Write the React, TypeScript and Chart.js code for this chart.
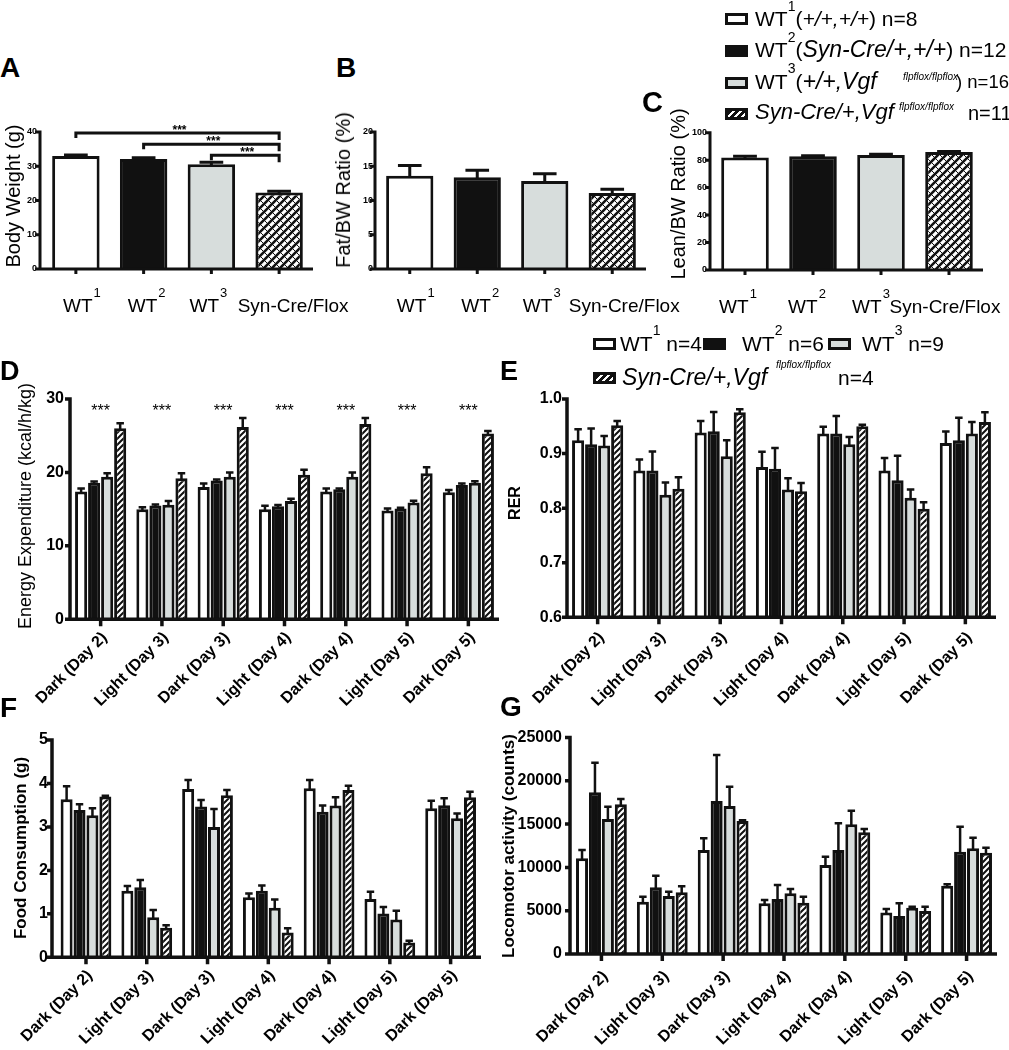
import React, { useEffect, useRef } from "react";
import { Chart, registerables } from "chart.js";
Chart.register(...registerables);

const FONT = '"Liberation Sans", Arial, Helvetica, sans-serif';
const BLACK = "#111111";
const WHITE = "#ffffff";
const GREY = "#d7dddc";

// ---------------- Panels A–C ----------------
const genotypeLabels = ["WT", "WT", "WT", "Syn-Cre/Flox"];
const genotypeSup = ["1", "2", "3", ""];
const genotypeFills = ["white", "black", "grey", "hatch"];

const bodyWeight = [33.0, 32.1, 30.6, 22.3];
const bodyWeightErr = [0.3, 0.4, 0.6, 0.4];
const fatBW = [13.6, 13.4, 12.85, 11.1];
const fatBWErr = [1.5, 1.0, 1.05, 0.55];
const leanBW = [82.0, 82.8, 83.8, 86.0];
const leanBWErr = [0.8, 0.4, 0.5, 0.3];

const bwSigPairs = [[0, 3], [1, 3], [2, 3]];
const bwSigLevels = [39.7, 36.4, 33.2];
const bwSigText = ["***", "***", "***"];

// ---------------- Panels D–G ----------------
const periods = [
  "Dark (Day 2)", "Light (Day 3)", "Dark (Day 3)", "Light (Day 4)",
  "Dark (Day 4)", "Light (Day 5)", "Dark (Day 5)",
];
const seriesFills = ["white", "black", "grey", "hatch"];

// D: Energy expenditure (kcal/h/kg)
const eeWT1 = [17.4, 15.0, 18.0, 15.0, 17.4, 14.8, 17.3];
const eeWT2 = [18.6, 15.5, 18.9, 15.4, 17.7, 15.1, 18.3];
const eeWT3 = [19.4, 15.6, 19.4, 16.1, 19.4, 15.9, 18.6];
const eeKO = [26.0, 19.2, 26.2, 19.7, 26.6, 19.9, 25.3];
const eeWT1Err = [0.4, 0.25, 0.5, 0.45, 0.4, 0.3, 0.3];
const eeWT2Err = [0.15, 0.15, 0.15, 0.15, 0.1, 0.1, 0.2];
const eeWT3Err = [0.5, 0.5, 0.6, 0.3, 0.6, 0.25, 0.2];
const eeKOErr = [0.7, 0.7, 1.2, 0.65, 0.8, 0.8, 0.35];
const eeSig = ["***", "***", "***", "***", "***", "***", "***"];

// E: RER
const rerWT1 = [0.9245, 0.869, 0.9386, 0.8753, 0.937, 0.869, 0.9195];
const rerWT2 = [0.917, 0.869, 0.941, 0.872, 0.937, 0.851, 0.9245];
const rerWT3 = [0.915, 0.8245, 0.895, 0.834, 0.917, 0.819, 0.937];
const rerKO = [0.952, 0.8355, 0.9755, 0.831, 0.95, 0.7987, 0.958];
const rerWT1Err = [0.02, 0.02, 0.021, 0.028, 0.012, 0.023, 0.021];
const rerWT2Err = [0.029, 0.035, 0.035, 0.038, 0.032, 0.045, 0.041];
const rerWT3Err = [0.017, 0.0225, 0.0295, 0.021, 0.0135, 0.015, 0.021];
const rerKOErr = [0.0075, 0.021, 0.0055, 0.015, 0.003, 0.012, 0.0175];

// F: Food consumption (g)
const foodWT1 = [3.635, 1.53, 3.87, 1.38, 3.89, 1.34, 3.43];
const foodWT2 = [3.39, 1.61, 3.47, 1.53, 3.35, 1.01, 3.5];
const foodWT3 = [3.27, 0.92, 3.0, 1.14, 3.49, 0.87, 3.2];
const foodKO = [3.7, 0.68, 3.73, 0.57, 3.85, 0.34, 3.68];
const foodWT1Err = [0.3, 0.11, 0.21, 0.09, 0.19, 0.17, 0.17];
const foodWT2Err = [0.13, 0.17, 0.15, 0.12, 0.14, 0.15, 0.16];
const foodWT3Err = [0.16, 0.17, 0.41, 0.19, 0.19, 0.2, 0.11];
const foodKOErr = [0.02, 0.06, 0.12, 0.1, 0.1, 0.04, 0.13];

// G: Locomotor activity (counts)
const locoWT1 = [11050, 6040, 12010, 5850, 10280, 4780, 7890];
const locoWT2 = [18670, 7700, 17670, 6350, 12010, 4390, 11820];
const locoWT3 = [15590, 6700, 17090, 7010, 14970, 5350, 12200];
const locoKO = [17290, 7120, 15360, 5930, 14050, 4970, 11700];
const locoWT1Err = [960, 580, 1350, 390, 960, 420, 160];
const locoWT2Err = [3420, 1340, 5310, 1620, 3080, 1460, 2880];
const locoWT3Err = [1420, 490, 2230, 490, 1580, 110, 1230];
const locoKOErr = [610, 700, 80, 690, 380, 490, 580];

// ---------------- helpers ----------------
type DS = { data: number[]; err: number[]; fill: string | string[] };
interface Spec {
  key: string;
  rect: { x: number; y: number; w: number; h: number };
  area: { l: number; r: number; t: number; b: number };
  labels: string[];
  series: DS[];
  yMin: number; yMax: number; yStep: number; yDec: number;
  yFont: number; yPad: number;
  rotated: boolean; xFont: number; xPad: number; xShift: number;
  cat: number; bar: number;
  border: number; axisW: number; yGap: number; yTickLen: number; xTickLen: number;
  errW: number; capFrac: number;
  hatch: "big" | "small";
  draw?: (chart: any, ctx: CanvasRenderingContext2D) => void;
}

function makeHatch(size: number, lw: number, backLw: number): CanvasPattern | string {
  const c = document.createElement("canvas");
  c.width = size; c.height = size;
  const g = c.getContext("2d");
  if (!g) return WHITE;
  g.fillStyle = WHITE; g.fillRect(0, 0, size, size);
  g.strokeStyle = BLACK;
  g.lineWidth = lw;
  g.beginPath();
  for (const k of [-size, 0, size]) { g.moveTo(k - 1, size + 1); g.lineTo(k + size + 1, -1); }
  g.stroke();
  if (backLw > 0) {
    g.lineWidth = backLw;
    g.beginPath();
    for (const k of [-size, 0, size]) { g.moveTo(k - 1, -1); g.lineTo(k + size + 1, size + 1); }
    g.stroke();
  }
  const p = g.createPattern(c, "repeat");
  return p || WHITE;
}

function genotypeLabelDrawer(shifts: number[]) {
  return (chart: any, ctx: CanvasRenderingContext2D) => {
    const x = chart.scales.x;
    const base = chart.chartArea.bottom + 43;
    ctx.save();
    ctx.fillStyle = "#000"; ctx.textBaseline = "alphabetic"; ctx.textAlign = "left";
    genotypeLabels.forEach((lab, i) => {
      ctx.font = `19px ${FONT}`;
      const w1 = ctx.measureText(lab).width;
      const sup = genotypeSup[i];
      ctx.font = `13px ${FONT}`;
      const w2 = sup ? ctx.measureText(sup).width + 1 : 0;
      const cx = x.getPixelForValue(i) + shifts[i];
      const sx = cx - (w1 + w2) / 2;
      ctx.font = `19px ${FONT}`;
      ctx.fillText(lab, sx, base);
      if (sup) { ctx.font = `13px ${FONT}`; ctx.fillText(sup, sx + w1 + 1, base - 15); }
    });
    ctx.restore();
  };
}

function makePlugin(s: Spec) {
  return {
    id: "fig_" + s.key,
    afterDatasetsDraw(chart: any) {
      const ctx: CanvasRenderingContext2D = chart.ctx;
      const y = chart.scales.y;
      ctx.save();
      ctx.strokeStyle = BLACK; ctx.lineWidth = s.errW; ctx.lineCap = "butt";
      chart.data.datasets.forEach((ds: any, di: number) => {
        const meta = chart.getDatasetMeta(di);
        meta.data.forEach((el: any, i: number) => {
          const v = ds.data[i]; const e = ds.err[i];
          const pt = y.getPixelForValue(v + e);
          const cw = (el.width * s.capFrac) / 2;
          ctx.beginPath();
          ctx.moveTo(el.x, el.y + 1); ctx.lineTo(el.x, pt);
          ctx.moveTo(el.x - cw, pt); ctx.lineTo(el.x + cw, pt);
          ctx.stroke();
        });
      });
      ctx.restore();
    },
    afterDraw(chart: any) {
      const ctx: CanvasRenderingContext2D = chart.ctx;
      const ca = chart.chartArea;
      const x = chart.scales.x; const y = chart.scales.y;
      const ax = ca.left - s.yGap;
      const y0 = y.getPixelForValue(s.yMin);
      const yTop = y.getPixelForValue(s.yMax);
      ctx.save();
      ctx.strokeStyle = BLACK; ctx.lineWidth = s.axisW; ctx.lineCap = "butt";
      ctx.beginPath();
      ctx.moveTo(ax, yTop - s.axisW / 2); ctx.lineTo(ax, y0);
      y.ticks.forEach((t: any) => {
        const py = y.getPixelForValue(t.value);
        ctx.moveTo(ax - s.yTickLen, py); ctx.lineTo(ax, py);
      });
      ctx.moveTo(ax - s.yTickLen, y0); ctx.lineTo(ca.right, y0);
      s.labels.forEach((_l, i) => {
        const px = x.getPixelForValue(i);
        ctx.moveTo(px, y0); ctx.lineTo(px, y0 + s.xTickLen);
      });
      ctx.stroke();
      ctx.restore();
      if (s.draw) s.draw(chart, ctx);
    },
  };
}

function buildConfig(s: Spec, fills: Record<string, any>) {
  const resolve = (f: string) => fills[f];
  return {
    type: "bar" as const,
    data: {
      labels: s.labels,
      datasets: s.series.map((ds) => ({
        data: ds.data,
        err: ds.err,
        backgroundColor: Array.isArray(ds.fill) ? ds.fill.map(resolve) : resolve(ds.fill),
        borderColor: BLACK,
        borderWidth: s.border,
        borderSkipped: "start",
        categoryPercentage: s.cat,
        barPercentage: s.bar,
      })),
    },
    options: {
      responsive: true,
      maintainAspectRatio: false,
      animation: false,
      devicePixelRatio: 1,
      events: [],
      layout: {
        padding: { top: s.area.t - s.rect.y, right: s.rect.x + s.rect.w - s.area.r, left: 0, bottom: 0 },
      },
      plugins: { legend: { display: false }, tooltip: { enabled: false }, title: { display: false } },
      scales: {
        x: {
          type: "category",
          offset: true,
          grid: { display: false, drawTicks: false },
          border: { display: false },
          ticks: {
            display: s.rotated,
            minRotation: 45, maxRotation: 45, autoSkip: false,
            padding: s.xPad, labelOffset: s.xShift, color: "#000",
            font: { family: FONT, size: s.xFont, weight: "bold" },
          },
          afterFit: (sc: any) => { sc.height = s.rect.y + s.rect.h - s.area.b; },
        },
        y: {
          min: s.yMin, max: s.yMax,
          grid: { display: false, drawTicks: false },
          border: { display: false },
          ticks: {
            stepSize: s.yStep, padding: s.yPad, color: "#000",
            font: { family: FONT, size: s.yFont, weight: "bold" },
            callback: (v: any) => Number(v).toFixed(s.yDec),
          },
          afterFit: (sc: any) => { sc.width = s.area.l - s.rect.x; },
        },
      },
    },
    plugins: [makePlugin(s)],
  };
}

const smallCommon = {
  rotated: false, xFont: 12, xPad: 0, xShift: 0,
  cat: 0.7, bar: 1, border: 3, axisW: 3, yTickLen: 5, xTickLen: 5,
  errW: 3, capFrac: 0.5, hatch: "big" as const, yDec: 0, yFont: 9,
};
const timeCommon = {
  rotated: true, xFont: 16, xShift: 4,
  cat: 0.85, bar: 0.93, border: 3, axisW: 3.5, yTickLen: 5, xTickLen: 7,
  errW: 2.5, capFrac: 0.62, hatch: "small" as const, yFont: 16,
};

function fourSeries(a: number[], b: number[], c: number[], d: number[], ea: number[], eb: number[], ec: number[], ed: number[]): DS[] {
  const vals = [a, b, c, d]; const errs = [ea, eb, ec, ed];
  return vals.map((v, i) => ({ data: v, err: errs[i], fill: seriesFills[i] }));
}

const specs: Spec[] = [
  {
    ...smallCommon, key: "A",
    rect: { x: 0, y: 100, w: 365, h: 230 }, area: { l: 42, r: 313, t: 132, b: 269 },
    labels: genotypeLabels.map((l, i) => l + genotypeSup[i]),
    series: [{ data: bodyWeight, err: bodyWeightErr, fill: genotypeFills }],
    yMin: 0, yMax: 40, yStep: 10, yPad: 5, yGap: 2,
    draw: (chart, ctx) => {
      genotypeLabelDrawer([6, 3, -3, 14])(chart, ctx);
      const x = chart.scales.x; const y = chart.scales.y;
      ctx.save();
      ctx.strokeStyle = BLACK; ctx.lineWidth = 3; ctx.fillStyle = "#000";
      ctx.font = `bold 12px ${FONT}`; ctx.textAlign = "center"; ctx.textBaseline = "alphabetic";
      bwSigPairs.forEach(([a, b], k) => {
        const x1 = x.getPixelForValue(a); const x2 = x.getPixelForValue(b);
        const yy = y.getPixelForValue(bwSigLevels[k]);
        ctx.beginPath();
        ctx.moveTo(x1, yy + 5); ctx.lineTo(x1, yy); ctx.lineTo(x2, yy); ctx.lineTo(x2, yy + 7);
        ctx.stroke();
        ctx.fillText(bwSigText[k], (x1 + x2) / 2 + 2, yy + 1);
      });
      ctx.restore();
    },
  },
  {
    ...smallCommon, key: "B",
    rect: { x: 330, y: 100, w: 370, h: 230 }, area: { l: 376, r: 646, t: 132, b: 269 },
    labels: genotypeLabels.map((l, i) => l + genotypeSup[i]),
    series: [{ data: fatBW, err: fatBWErr, fill: genotypeFills }],
    yMin: 0, yMax: 20, yStep: 5, yPad: 3, yGap: 1,
    draw: genotypeLabelDrawer([6, 3, -3, 12]),
  },
  {
    ...smallCommon, key: "C",
    rect: { x: 655, y: 110, w: 354, h: 220 }, area: { l: 711, r: 983, t: 132.7, b: 270 },
    labels: genotypeLabels.map((l, i) => l + genotypeSup[i]),
    series: [{ data: leanBW, err: leanBWErr, fill: genotypeFills }],
    yMin: 0, yMax: 100, yStep: 20, yPad: 4, yGap: 1,
    draw: genotypeLabelDrawer([-7, -6, -10, -4]),
  },
  {
    ...timeCommon, key: "D",
    rect: { x: 0, y: 370, w: 530, h: 340 }, area: { l: 70, r: 499, t: 399, b: 619.3 },
    labels: periods,
    series: fourSeries(eeWT1, eeWT2, eeWT3, eeKO, eeWT1Err, eeWT2Err, eeWT3Err, eeKOErr),
    yMin: 0, yMax: 30, yStep: 10, yDec: 0, yPad: 6, yGap: 0, xPad: 9,
    draw: (chart, ctx) => {
      const x = chart.scales.x; const y = chart.scales.y;
      ctx.save();
      ctx.fillStyle = "#000"; ctx.font = `16px ${FONT}`; ctx.textAlign = "center"; ctx.textBaseline = "alphabetic";
      eeSig.forEach((t, i) => ctx.fillText(t, x.getPixelForValue(i), y.getPixelForValue(30) + 17));
      ctx.restore();
    },
  },
  {
    ...timeCommon, key: "E",
    rect: { x: 500, y: 370, w: 509, h: 340 }, area: { l: 567, r: 996, t: 399, b: 617.3 },
    labels: periods,
    series: fourSeries(rerWT1, rerWT2, rerWT3, rerKO, rerWT1Err, rerWT2Err, rerWT3Err, rerKOErr),
    yMin: 0.6, yMax: 1.0, yStep: 0.1, yDec: 1, yPad: 5, yGap: 0, xPad: 11,
  },
  {
    ...timeCommon, key: "F",
    rect: { x: 0, y: 715, w: 520, h: 335 }, area: { l: 55.6, r: 481, t: 740, b: 957.3 },
    labels: periods,
    series: fourSeries(foodWT1, foodWT2, foodWT3, foodKO, foodWT1Err, foodWT2Err, foodWT3Err, foodKOErr),
    yMin: 0, yMax: 5, yStep: 1, yDec: 0, yPad: 7.6, yGap: 3.6, xPad: 9,
  },
  {
    ...timeCommon, key: "G",
    rect: { x: 500, y: 715, w: 509, h: 335 }, area: { l: 571, r: 997, t: 737.5, b: 954 },
    labels: periods,
    series: fourSeries(locoWT1, locoWT2, locoWT3, locoKO, locoWT1Err, locoWT2Err, locoWT3Err, locoKOErr),
    yMin: 0, yMax: 25000, yStep: 5000, yDec: 0, yPad: 9, yGap: 1, xPad: 13,
  },
];

// ---------------- HTML text helpers ----------------
function T(p: { x: number; b: number; s: number; bold?: boolean; it?: boolean; children: any }) {
  return (
    <div style={{
      position: "absolute", left: p.x, top: p.b - 0.8465 * p.s, fontSize: p.s, lineHeight: `${p.s}px`,
      fontWeight: p.bold ? 700 : 400, fontStyle: p.it ? "italic" : "normal", whiteSpace: "nowrap", color: "#000",
    }}>{p.children}</div>
  );
}
function VT(p: { cx: number; cy: number; s: number; bold?: boolean; children: any }) {
  return (
    <div style={{
      position: "absolute", left: p.cx, top: p.cy, fontSize: p.s, lineHeight: `${p.s}px`,
      fontWeight: p.bold ? 700 : 400, whiteSpace: "nowrap", color: "#000",
      transform: "translate(-50%, -50%) rotate(-90deg)",
    }}>{p.children}</div>
  );
}
function Sup(p: { children: any; s?: number; up?: number; it?: boolean }) {
  return <span style={{ fontSize: p.s ?? 14, position: "relative", top: -(p.up ?? 15), fontStyle: p.it ? "italic" : "normal" }}>{p.children}</span>;
}
function It(p: { children: any; s?: number }) {
  return <i style={{ fontSize: p.s ?? 21 }}>{p.children}</i>;
}
const cssFill: Record<string, string> = {
  white: WHITE, black: BLACK, grey: GREY,
  hatch: "repeating-linear-gradient(135deg, #111 0px, #111 3px, #fff 3px, #fff 5px)",
};
function Sw(p: { x: number; y: number; fill: string }) {
  return (
    <div style={{
      position: "absolute", left: p.x, top: p.y, width: 23, height: 12, boxSizing: "border-box",
      border: "3px solid #111", background: cssFill[p.fill],
    }} />
  );
}

export default function App() {
  const refs = useRef<(HTMLCanvasElement | null)[]>([]);
  useEffect(() => {
    const fillsBig = { white: WHITE, black: BLACK, grey: GREY, hatch: makeHatch(8, 2.6, 1.0) };
    const fillsSmall = { white: WHITE, black: BLACK, grey: GREY, hatch: makeHatch(6, 2.0, 0) };
    const charts = specs.map((s, i) => {
      const c = refs.current[i];
      if (!c) return null;
      return new Chart(c, buildConfig(s, s.hatch === "big" ? fillsBig : fillsSmall) as any);
    });
    return () => charts.forEach((ch) => ch && ch.destroy());
  }, []);

  return (
    <div style={{ position: "absolute", left: 0, top: 0, width: 1009, height: 1050, background: "#fff", fontFamily: FONT, overflow: "hidden" }}>
      {specs.map((s, i) => (
        <div key={s.key} style={{ position: "absolute", left: s.rect.x, top: s.rect.y, width: s.rect.w, height: s.rect.h }}>
          <canvas ref={(el) => { refs.current[i] = el; }} />
        </div>
      ))}

      {/* panel letters */}
      <T x={0} b={78} s={28} bold>A</T>
      <T x={336} b={78} s={28} bold>B</T>
      <T x={642} b={113} s={29} bold>C</T>
      <T x={0} b={381} s={27} bold>D</T>
      <T x={500} b={381} s={27} bold>E</T>
      <T x={0} b={718} s={28} bold>F</T>
      <T x={500} b={717} s={28} bold>G</T>

      {/* axis titles */}
      <VT cx={13} cy={196} s={20}>Body Weight (g)</VT>
      <VT cx={343} cy={190} s={20}>Fat/BW Ratio (%)</VT>
      <VT cx={678} cy={194} s={20}>Lean/BW Ratio (%)</VT>
      <VT cx={25} cy={506} s={18}>Energy Expenditure (kcal/h/kg)</VT>
      <VT cx={515} cy={503} s={16} bold>RER</VT>
      <VT cx={20} cy={848} s={17} bold>Food Consumption (g)</VT>
      <VT cx={508} cy={846} s={17} bold>Locomotor activity (counts)</VT>

      {/* legend for A–C */}
      <Sw x={725} y={13} fill="white" />
      <T x={755} b={26} s={21}>WT<Sup>1</Sup>(<It>+/+,+/+</It>) n=8</T>

      <Sw x={725} y={45} fill="black" />
      <T x={755} b={57} s={21}>WT<Sup>2</Sup>(<It s={23}>Syn-Cre/+,+/+</It>) n=12</T>

      <Sw x={725} y={77} fill="grey" />
      <T x={755} b={89} s={21}>WT<Sup up={16}>3</Sup>(<It s={23}>+/+,Vgf</It></T>
      <T x={903} b={80} s={10} it>flpflox/flpflox</T>
      <T x={956} b={89} s={18.5}>) n=16</T>

      <Sw x={725} y={108} fill="hatch" />
      <T x={755} b={120} s={22} it>Syn-Cre/+,Vgf</T>
      <T x={899} b={110} s={10} it>flpflox/flpflox</T>
      <T x={968} b={120} s={20}>n=11</T>

      {/* legend for D–G */}
      <Sw x={593} y={338} fill="white" />
      <T x={620} b={351} s={21}>WT<Sup up={16}>1</Sup> n=4</T>
      <Sw x={703} y={338} fill="black" />
      <T x={742} b={351} s={21}>WT<Sup up={16}>2</Sup> n=6</T>
      <Sw x={828} y={338} fill="grey" />
      <T x={862} b={351} s={21}>WT<Sup up={16}>3</Sup> n=9</T>

      <Sw x={593} y={372} fill="hatch" />
      <T x={622} b={385} s={23} it>Syn-Cre/+,Vgf</T>
      <T x={776} b={368} s={10} it>flpflox/flpflox</T>
      <T x={838} b={385} s={21}>n=4</T>
    </div>
  );
}
